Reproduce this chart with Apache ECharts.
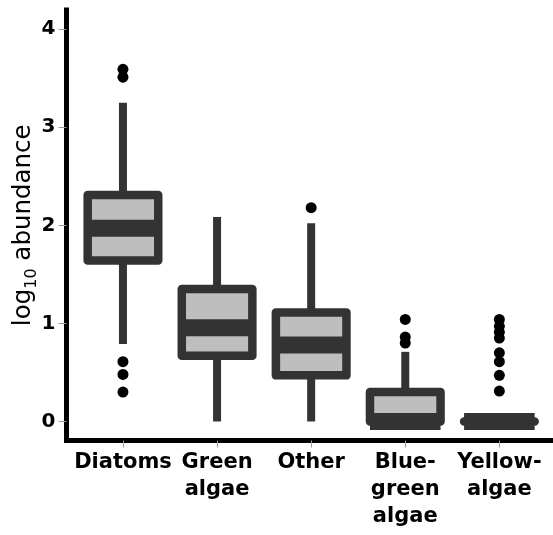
<!DOCTYPE html>
<html>
<head>
<meta charset="utf-8">
<script src="https://cdn.jsdelivr.net/npm/echarts@6/dist/echarts.min.js"></script>
<style>html,body{margin:0;padding:0;background:#fff}#chart{width:553px;height:535px}</style>
</head>
<body>
<div id="chart"></div>
<script>
// ---- data ----
var categories = ['Diatoms', 'Green\nalgae', 'Other', 'Blue-\ngreen\nalgae', 'Yellow-\nalgae'];
var lowerWhisker = [0.79, 0.00, 0.00, 0.00, 0.00];
var q1Values     = [1.64, 0.67, 0.47, 0.00, 0.00];
var medianValues = [1.97, 0.955, 0.78, 0.00, 0.00];
var q3Values     = [2.31, 1.35, 1.11, 0.30, 0.00];
var upperWhisker = [3.25, 2.085, 2.02, 0.71, 0.00];
var outliersDiatoms   = [3.59, 3.51, 0.61, 0.48, 0.30];
var outliersGreen     = [];
var outliersOther     = [2.18];
var outliersBlueGreen = [1.04, 0.86, 0.80];
var outliersYellow    = [1.04, 0.97, 0.91, 0.85, 0.70, 0.61, 0.47, 0.31];
var yTicks = [0, 1, 2, 3, 4];

// ---- build series data ----
var boxData = categories.map(function (c, i) {
  return [i + 1, lowerWhisker[i], q1Values[i], medianValues[i], q3Values[i], upperWhisker[i]];
});
var outlierGroups = [outliersDiatoms, outliersGreen, outliersOther, outliersBlueGreen, outliersYellow];
var outlierData = [];
outlierGroups.forEach(function (g, i) {
  g.forEach(function (v) { outlierData.push([i + 1, v]); });
});
var xTickValues = categories.map(function (c, i) { return i + 1; });

var DARK = '#333333';
var FILL = '#bebebe';
var BOX_WIDTH = 0.75;

function renderBox(params, api) {
  var x = api.value(0);
  var lo = api.coord([x, api.value(1)]);
  var q1 = api.coord([x, api.value(2)]);
  var md = api.coord([x, api.value(3)]);
  var q3 = api.coord([x, api.value(4)]);
  var hi = api.coord([x, api.value(5)]);
  var half = api.size([BOX_WIDTH, 0])[0] / 2;
  var cx = lo[0];
  return {
    type: 'group',
    children: [
      { type: 'line', shape: { x1: cx, y1: hi[1], x2: cx, y2: q3[1] },
        style: { stroke: DARK, lineWidth: 8, lineCap: 'butt' } },
      { type: 'line', shape: { x1: cx, y1: q1[1], x2: cx, y2: lo[1] },
        style: { stroke: DARK, lineWidth: 8, lineCap: 'butt' } },
      { type: 'rect', shape: { x: cx - half, y: q3[1], width: 2 * half, height: q1[1] - q3[1] },
        style: { fill: FILL, stroke: DARK, lineWidth: 8.5, lineJoin: 'round' } },
      { type: 'line', shape: { x1: cx - half, y1: md[1], x2: cx + half, y2: md[1] },
        style: { stroke: DARK, lineWidth: 17, lineCap: 'butt' } }
    ]
  };
}

var chart = echarts.init(document.getElementById('chart'), null, { renderer: 'canvas' });
chart.setOption({
  animation: false,
  backgroundColor: '#ffffff',
  grid: { left: 66.5, right: 0, top: 10, bottom: 94.5, containLabel: false, outerBoundsMode: 'none' },
  xAxis: {
    type: 'value', min: 0.4, max: 5.57,
    axisLine: { show: true, onZero: false, lineStyle: { color: '#000', width: 5, cap: 'square' } },
    axisTick: { show: true, customValues: xTickValues, length: 7, lineStyle: { color: '#999', width: 1 } },
    axisLabel: {
      customValues: xTickValues,
      formatter: function (v) { return categories[Math.round(v) - 1]; },
      fontFamily: 'DejaVu Sans', fontWeight: 'bold', fontSize: 21, lineHeight: 27,
      color: '#000', margin: 9
    },
    splitLine: { show: false }
  },
  yAxis: {
    type: 'value', min: -0.194, max: 4.195,
    name: '{a|log}{s|10}{a| abundance}',
    nameLocation: 'middle', nameRotate: 90, nameGap: 27, nameMoveOverlap: false,
    nameTextStyle: {
      rich: {
        a: { fontFamily: 'DejaVu Sans', fontSize: 24.5, color: '#000', lineHeight: 31 },
        s: { fontFamily: 'DejaVu Sans', fontSize: 16, color: '#000', lineHeight: 31, verticalAlign: 'bottom' }
      }
    },
    axisLine: { show: true, onZero: false, lineStyle: { color: '#000', width: 5, cap: 'square' } },
    axisTick: { show: true, customValues: yTicks, length: 8, lineStyle: { color: '#999', width: 1 } },
    axisLabel: {
      customValues: yTicks,
      formatter: function (v) { return String(Math.round(v)); },
      fontFamily: 'DejaVu Sans', fontWeight: 'bold', fontSize: 20, color: '#000', margin: 11
    },
    splitLine: { show: false }
  },
  series: [
    {
      type: 'custom', renderItem: renderBox, data: boxData,
      encode: { x: 0, y: [1, 2, 3, 4, 5] }, clip: false, z: 2
    },
    {
      type: 'scatter', data: outlierData, symbol: 'circle', symbolSize: 11,
      itemStyle: { color: '#000', opacity: 1 }, z: 3
    }
  ]
});
</script>
</body>
</html>
